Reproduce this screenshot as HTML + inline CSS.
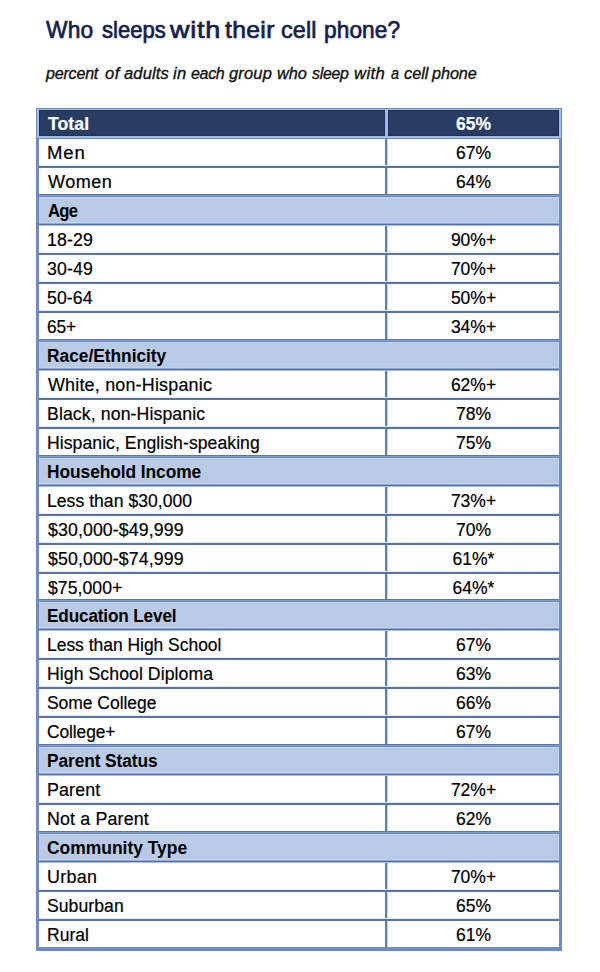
<!DOCTYPE html>
<html><head><meta charset="utf-8"><title>Who sleeps with their cell phone?</title>
<style>
html,body{margin:0;padding:0;background:#fff;}
body{width:600px;height:972px;position:relative;overflow:hidden;font-family:"Liberation Sans",sans-serif;}
.tw{position:absolute;top:20.38px;font-size:22.0px;line-height:22.0px;font-weight:normal;color:#14214d;-webkit-text-stroke:0.65px #14214d;white-space:nowrap;transform-origin:0 18.62px;}
.sw{position:absolute;top:65.20px;font-size:16.3px;line-height:16.3px;font-style:italic;color:#111;-webkit-text-stroke:0.35px #111;white-space:nowrap;transform-origin:0 0;}
.frame{position:absolute;background:#6e8cc2;}
.hl{position:absolute;background:#a2bbe7;}
.c{position:absolute;font-size:17.5px;line-height:26px;white-space:nowrap;color:#000;-webkit-text-stroke:0.2px #000;}
.h{-webkit-text-stroke:0.2px #fff;}
.c .l{position:absolute;top:1px;transform-origin:0 0;}
.c .vv{position:relative;top:1px;}
.h{background:#283c64;color:#fff;font-weight:bold;box-shadow:inset 0 0 0 1px #1d3158;}
.w{background:#fff;}
.s{background:#b9cbe4;font-weight:bold;color:#000;-webkit-text-stroke:0;box-shadow:inset 0 1px 0 #c8d7ee,inset 0 -1px 0 #c4d4ec,inset -1px 0 0 #c4d4ec;}
.v{text-align:center;}
.ln{position:absolute;height:3px;background:linear-gradient(#e2eaf6 0,#e2eaf6 1px,#5873a3 1px,#5873a3 3px);}
.vd{position:absolute;width:3px;background:linear-gradient(90deg,#647fa6 0,#647fa6 2px,#bcd3f0 2px,#bcd3f0 3px);}
.lst{position:absolute;height:3px;background:linear-gradient(#5c75aa 0,#5c75aa 1px,#809dd4 1px,#809dd4 2px,#6a89bc 2px,#6a89bc 3px);}
.lsb{position:absolute;height:3px;background:linear-gradient(#8ea8d6 0,#8ea8d6 1px,#5871a5 1px,#5871a5 2px,#a8bde6 2px,#a8bde6 3px);}

</style></head><body>
<span class="tw p0" style="left:45.72px;letter-spacing:0.192px;transform:scale(1.0354,1.08)">Who</span>
<span class="tw p1" style="left:101.88px;letter-spacing:0.005px;transform:scale(1.0016,1.08)">sleeps</span>
<span class="tw p0" style="left:170.39px;letter-spacing:0.582px;transform:scale(1.2271,1.08)">with</span>
<span class="tw p1" style="left:225.09px;letter-spacing:0.295px;transform:scale(1.1238,1.08)">their</span>
<span class="tw p0" style="left:281.15px;letter-spacing:0.151px;transform:scale(1.0621,1.08)">cell</span>
<span class="tw p1" style="left:323.88px;letter-spacing:0.102px;transform:scale(1.0291,1.08)">phone?</span>
<span class="sw p0" style="left:45.99px;letter-spacing:-0.205px;transform:scaleX(0.9857)">percent</span>
<span class="sw p1" style="left:104.89px;letter-spacing:0.439px;transform:scaleX(1.0196)">of</span>
<span class="sw p0" style="left:123.90px;letter-spacing:0.166px;transform:scaleX(1.0130)">adults</span>
<span class="sw p1" style="left:172.64px;letter-spacing:0.296px;transform:scaleX(1.0166)">in</span>
<span class="sw p0" style="left:191.00px;letter-spacing:-0.318px;transform:scaleX(0.9820)">each</span>
<span class="sw p1" style="left:229.00px;letter-spacing:0.180px;transform:scaleX(1.0116)">group</span>
<span class="sw p0" style="left:277.00px;letter-spacing:-0.003px;transform:scaleX(0.9999)">who</span>
<span class="sw p1" style="left:312.00px;letter-spacing:-0.309px;transform:scaleX(0.9793)">sleep</span>
<span class="sw p0" style="left:354.10px;letter-spacing:0.331px;transform:scaleX(1.0239)">with</span>
<span class="sw p1" style="left:391.00px;letter-spacing:0.000px;transform:scaleX(0.8854)">a</span>
<span class="sw p0" style="left:403.96px;letter-spacing:-0.009px;transform:scaleX(0.9994)">cell</span>
<span class="sw p1" style="left:432.10px;letter-spacing:-0.074px;transform:scaleX(0.9957)">phone</span>
<div class="frame" style="left:36px;top:108px;width:526px;height:843px"></div>
<div class="hl" style="left:37px;top:109px;width:524px;height:29px"></div>
<div class="c h" style="left:39px;top:110px;width:346px;height:26px"><span class="l" style="left:9.00px;letter-spacing:0.066px;transform:scaleX(1.0067)">Total</span></div>
<div class="c h v" style="left:388px;top:110px;width:171px;height:26px"><span class="vv">65%</span></div>
<div class="c w" style="left:39px;top:139px;width:346px;height:26px"><span class="l" style="left:7.94px;letter-spacing:0.879px;transform:scaleX(1.0587)">Men</span></div>
<div class="c w v" style="left:388px;top:139px;width:171px;height:26px"><span class="vv">67%</span></div>
<div class="ln" style="left:39px;top:165px;width:520px"></div>
<div class="vd" style="left:385px;top:139px;height:26px"></div>
<div class="c w" style="left:39px;top:168px;width:346px;height:26px"><span class="l" style="left:9.00px;letter-spacing:0.458px;transform:scaleX(1.0322)">Women</span></div>
<div class="c w v" style="left:388px;top:168px;width:171px;height:26px"><span class="vv">64%</span></div>
<div class="lst" style="left:39px;top:194px;width:520px"></div>
<div class="vd" style="left:385px;top:168px;height:26px"></div>
<div class="c s" style="left:39px;top:197px;width:520px;height:26px"><span class="l" style="left:9.00px;letter-spacing:-0.796px;transform:scaleX(0.9540)">Age</span></div>
<div class="lsb" style="left:39px;top:223px;width:520px"></div>
<div class="c w" style="left:39px;top:226px;width:346px;height:26px"><span class="l" style="left:7.99px;letter-spacing:0.141px;transform:scaleX(1.0133)">18-29</span></div>
<div class="c w v" style="left:388px;top:226px;width:171px;height:26px"><span class="vv">90%+</span></div>
<div class="ln" style="left:39px;top:252px;width:520px"></div>
<div class="vd" style="left:385px;top:226px;height:26px"></div>
<div class="c w" style="left:39px;top:255px;width:346px;height:26px"><span class="l" style="left:8.18px;letter-spacing:0.118px;transform:scaleX(1.0111)">30-49</span></div>
<div class="c w v" style="left:388px;top:255px;width:171px;height:26px"><span class="vv">70%+</span></div>
<div class="ln" style="left:39px;top:281px;width:520px"></div>
<div class="vd" style="left:385px;top:255px;height:26px"></div>
<div class="c w" style="left:39px;top:284px;width:346px;height:26px"><span class="l" style="left:8.17px;letter-spacing:0.097px;transform:scaleX(1.0090)">50-64</span></div>
<div class="c w v" style="left:388px;top:284px;width:171px;height:26px"><span class="vv">50%+</span></div>
<div class="ln" style="left:39px;top:310px;width:520px"></div>
<div class="vd" style="left:385px;top:284px;height:26px"></div>
<div class="c w" style="left:39px;top:313px;width:346px;height:26px"><span class="l" style="left:8.16px;letter-spacing:-0.108px;transform:scaleX(0.9925)">65+</span></div>
<div class="c w v" style="left:388px;top:313px;width:171px;height:26px"><span class="vv">34%+</span></div>
<div class="lst" style="left:39px;top:339px;width:520px"></div>
<div class="vd" style="left:385px;top:313px;height:26px"></div>
<div class="c s" style="left:39px;top:342px;width:520px;height:26px"><span class="l" style="left:8.01px;letter-spacing:-0.051px;transform:scaleX(0.9945)">Race/Ethnicity</span></div>
<div class="lsb" style="left:39px;top:368px;width:520px"></div>
<div class="c w" style="left:39px;top:371px;width:346px;height:26px"><span class="l" style="left:9.00px;letter-spacing:0.197px;transform:scaleX(1.0232)">White, non-Hispanic</span></div>
<div class="c w v" style="left:388px;top:371px;width:171px;height:26px"><span class="vv">62%+</span></div>
<div class="ln" style="left:39px;top:397px;width:520px"></div>
<div class="vd" style="left:385px;top:371px;height:26px"></div>
<div class="c w" style="left:39px;top:400px;width:346px;height:26px"><span class="l" style="left:7.99px;letter-spacing:0.094px;transform:scaleX(1.0112)">Black, non-Hispanic</span></div>
<div class="c w v" style="left:388px;top:400px;width:171px;height:26px"><span class="vv">78%</span></div>
<div class="ln" style="left:39px;top:426px;width:520px"></div>
<div class="vd" style="left:385px;top:400px;height:26px"></div>
<div class="c w" style="left:39px;top:429px;width:346px;height:26px"><span class="l" style="left:7.99px;letter-spacing:0.052px;transform:scaleX(1.0063)">Hispanic, English-speaking</span></div>
<div class="c w v" style="left:388px;top:429px;width:171px;height:26px"><span class="vv">75%</span></div>
<div class="lst" style="left:39px;top:455px;width:520px"></div>
<div class="vd" style="left:385px;top:429px;height:26px"></div>
<div class="c s" style="left:39px;top:458px;width:520px;height:26px"><span class="l" style="left:8.01px;letter-spacing:-0.076px;transform:scaleX(0.9927)">Household Income</span></div>
<div class="lsb" style="left:39px;top:484px;width:520px"></div>
<div class="c w" style="left:39px;top:487px;width:346px;height:26px"><span class="l" style="left:8.00px;letter-spacing:0.033px;transform:scaleX(1.0037)">Less than $30,000</span></div>
<div class="c w v" style="left:388px;top:487px;width:171px;height:26px"><span class="vv">73%+</span></div>
<div class="ln" style="left:39px;top:513px;width:520px"></div>
<div class="vd" style="left:385px;top:487px;height:26px"></div>
<div class="c w" style="left:39px;top:516px;width:346px;height:26px"><span class="l" style="left:9.00px;letter-spacing:0.113px;transform:scaleX(1.0121)">$30,000-$49,999</span></div>
<div class="c w v" style="left:388px;top:516px;width:171px;height:26px"><span class="vv">70%</span></div>
<div class="ln" style="left:39px;top:542px;width:520px"></div>
<div class="vd" style="left:385px;top:516px;height:26px"></div>
<div class="c w" style="left:39px;top:545px;width:346px;height:26px"><span class="l" style="left:9.00px;letter-spacing:0.113px;transform:scaleX(1.0121)">$50,000-$74,999</span></div>
<div class="c w v" style="left:388px;top:545px;width:171px;height:26px"><span class="vv">61%*</span></div>
<div class="ln" style="left:39px;top:571px;width:520px"></div>
<div class="vd" style="left:385px;top:545px;height:26px"></div>
<div class="c w" style="left:39px;top:574px;width:346px;height:25px"><span class="l" style="left:9.00px;letter-spacing:0.058px;transform:scaleX(1.0056)">$75,000+</span></div>
<div class="c w v" style="left:388px;top:574px;width:171px;height:25px"><span class="vv">64%*</span></div>
<div class="lst" style="left:39px;top:599px;width:520px"></div>
<div class="vd" style="left:385px;top:574px;height:25px"></div>
<div class="c s" style="left:39px;top:602px;width:520px;height:26px"><span class="l" style="left:8.02px;letter-spacing:-0.166px;transform:scaleX(0.9827)">Education Level</span></div>
<div class="lsb" style="left:39px;top:628px;width:520px"></div>
<div class="c w" style="left:39px;top:631px;width:346px;height:26px"><span class="l" style="left:8.00px;letter-spacing:-0.017px;transform:scaleX(0.9980)">Less than High School</span></div>
<div class="c w v" style="left:388px;top:631px;width:171px;height:26px"><span class="vv">67%</span></div>
<div class="ln" style="left:39px;top:657px;width:520px"></div>
<div class="vd" style="left:385px;top:631px;height:26px"></div>
<div class="c w" style="left:39px;top:660px;width:346px;height:26px"><span class="l" style="left:7.99px;letter-spacing:0.071px;transform:scaleX(1.0079)">High School Diploma</span></div>
<div class="c w v" style="left:388px;top:660px;width:171px;height:26px"><span class="vv">63%</span></div>
<div class="ln" style="left:39px;top:686px;width:520px"></div>
<div class="vd" style="left:385px;top:660px;height:26px"></div>
<div class="c w" style="left:39px;top:689px;width:346px;height:26px"><span class="l" style="left:8.19px;letter-spacing:-0.022px;transform:scaleX(0.9978)">Some College</span></div>
<div class="c w v" style="left:388px;top:689px;width:171px;height:26px"><span class="vv">66%</span></div>
<div class="ln" style="left:39px;top:715px;width:520px"></div>
<div class="vd" style="left:385px;top:689px;height:26px"></div>
<div class="c w" style="left:39px;top:718px;width:346px;height:26px"><span class="l" style="left:8.18px;letter-spacing:-0.081px;transform:scaleX(0.9917)">College+</span></div>
<div class="c w v" style="left:388px;top:718px;width:171px;height:26px"><span class="vv">67%</span></div>
<div class="lst" style="left:39px;top:744px;width:520px"></div>
<div class="vd" style="left:385px;top:718px;height:26px"></div>
<div class="c s" style="left:39px;top:747px;width:520px;height:26px"><span class="l" style="left:8.01px;letter-spacing:-0.095px;transform:scaleX(0.9899)">Parent Status</span></div>
<div class="lsb" style="left:39px;top:773px;width:520px"></div>
<div class="c w" style="left:39px;top:776px;width:346px;height:26px"><span class="l" style="left:7.98px;letter-spacing:0.163px;transform:scaleX(1.0163)">Parent</span></div>
<div class="c w v" style="left:388px;top:776px;width:171px;height:26px"><span class="vv">72%+</span></div>
<div class="ln" style="left:39px;top:802px;width:520px"></div>
<div class="vd" style="left:385px;top:776px;height:26px"></div>
<div class="c w" style="left:39px;top:805px;width:346px;height:26px"><span class="l" style="left:7.98px;letter-spacing:0.157px;transform:scaleX(1.0181)">Not a Parent</span></div>
<div class="c w v" style="left:388px;top:805px;width:171px;height:26px"><span class="vv">62%</span></div>
<div class="lst" style="left:39px;top:831px;width:520px"></div>
<div class="vd" style="left:385px;top:805px;height:26px"></div>
<div class="c s" style="left:39px;top:834px;width:520px;height:26px"><span class="l" style="left:8.19px;letter-spacing:-0.019px;transform:scaleX(0.9982)">Community Type</span></div>
<div class="lsb" style="left:39px;top:860px;width:520px"></div>
<div class="c w" style="left:39px;top:863px;width:346px;height:26px"><span class="l" style="left:7.98px;letter-spacing:0.268px;transform:scaleX(1.0240)">Urban</span></div>
<div class="c w v" style="left:388px;top:863px;width:171px;height:26px"><span class="vv">70%+</span></div>
<div class="ln" style="left:39px;top:889px;width:520px"></div>
<div class="vd" style="left:385px;top:863px;height:26px"></div>
<div class="c w" style="left:39px;top:892px;width:346px;height:26px"><span class="l" style="left:8.19px;letter-spacing:0.054px;transform:scaleX(1.0051)">Suburban</span></div>
<div class="c w v" style="left:388px;top:892px;width:171px;height:26px"><span class="vv">65%</span></div>
<div class="ln" style="left:39px;top:918px;width:520px"></div>
<div class="vd" style="left:385px;top:892px;height:26px"></div>
<div class="c w" style="left:39px;top:921px;width:346px;height:26px"><span class="l" style="left:8.00px;letter-spacing:0.020px;transform:scaleX(1.0020)">Rural</span></div>
<div class="c w v" style="left:388px;top:921px;width:171px;height:26px"><span class="vv">61%</span></div>
<div class="vd" style="left:385px;top:921px;height:26px"></div>
</body></html>
